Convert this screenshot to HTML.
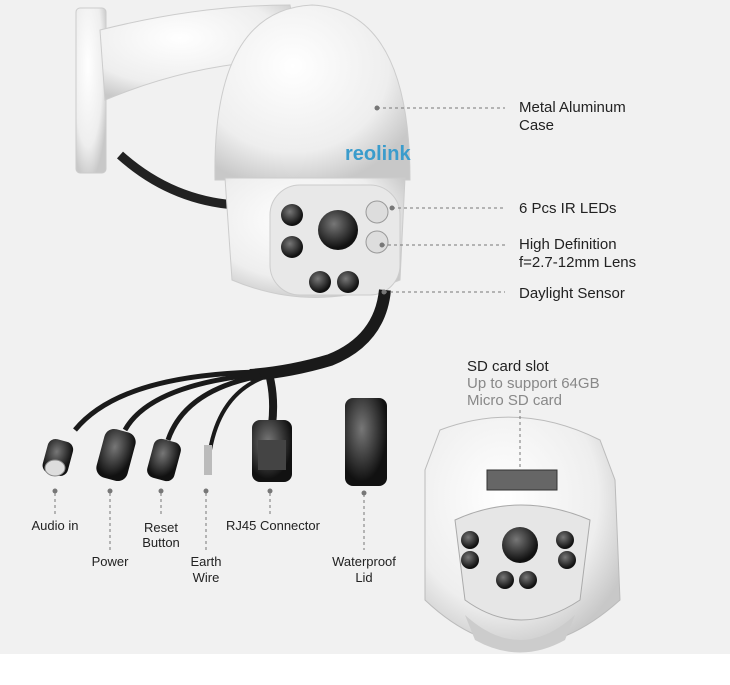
<!DOCTYPE html>
<html><head><style>
body{margin:0;width:730px;height:680px;background:#fff;overflow:hidden}
svg text{font-family:"Liberation Sans",sans-serif;fill:#222}
</style></head><body>
<svg width="730" height="680" viewBox="0 0 730 680">
<defs>
<radialGradient id="w" cx="40%" cy="35%" r="70%"><stop offset="0" stop-color="#fff"/><stop offset="0.7" stop-color="#eee"/><stop offset="1" stop-color="#c8c8c8"/></radialGradient>
<radialGradient id="b" cx="40%" cy="35%" r="60%"><stop offset="0" stop-color="#777"/><stop offset="1" stop-color="#111"/></radialGradient>
</defs>
<rect x="0" y="0" width="730" height="654" fill="#f1f1f1"/>
<!-- bracket -->
<rect x="76" y="8" width="30" height="165" rx="4" fill="url(#w)" stroke="#ccc"/>
<path d="M100 30 Q200 5 290 5 L300 60 Q200 60 105 100Z" fill="url(#w)" stroke="#ccc"/>
<!-- cable from bracket -->
<path d="M120 155 Q170 200 235 205" stroke="#222" stroke-width="9" fill="none"/>
<!-- dome -->
<path d="M215 180 Q212 10 312 5 Q410 10 410 180Z" fill="url(#w)" stroke="#ccc"/>
<text x="345" y="160" font-size="20" fill="#2a8fc0" style="fill:#3a9ccc;font-weight:bold">reolink</text>
<!-- lower housing -->
<path d="M225 178 L405 178 L400 280 Q315 315 232 280Z" fill="url(#w)" stroke="#ccc"/>
<rect x="270" y="185" width="130" height="110" rx="30" fill="#e8e8e8" stroke="#ccc"/>
<circle cx="338" cy="230" r="20" fill="url(#b)"/>
<circle cx="292" cy="215" r="11" fill="url(#b)"/><circle cx="292" cy="247" r="11" fill="url(#b)"/>
<circle cx="377" cy="212" r="11" fill="#ddd" stroke="#999"/><circle cx="377" cy="242" r="11" fill="#ddd" stroke="#999"/>
<circle cx="320" cy="282" r="11" fill="url(#b)"/><circle cx="348" cy="282" r="11" fill="url(#b)"/>
<!-- main cable and branches -->
<path d="M385 290 Q380 340 330 360 Q290 372 250 375" stroke="#1a1a1a" stroke-width="12" fill="none"/>
<path d="M260 372 Q120 375 75 430" stroke="#1a1a1a" stroke-width="5" fill="none"/>
<path d="M260 374 Q150 385 125 430" stroke="#1a1a1a" stroke-width="5" fill="none"/>
<path d="M260 376 Q185 390 168 440" stroke="#1a1a1a" stroke-width="5" fill="none"/>
<path d="M262 378 Q220 395 210 450" stroke="#1a1a1a" stroke-width="4" fill="none"/>
<path d="M270 378 Q275 400 272 425" stroke="#1a1a1a" stroke-width="8" fill="none"/>
<!-- connectors -->
<rect x="45" y="440" width="26" height="35" rx="8" fill="url(#b)" transform="rotate(15 58 457)"/>
<ellipse cx="55" cy="468" rx="10" ry="8" fill="#ddd" stroke="#888"/>
<rect x="100" y="430" width="32" height="50" rx="10" fill="url(#b)" transform="rotate(15 116 455)"/>
<rect x="150" y="440" width="28" height="40" rx="8" fill="url(#b)" transform="rotate(15 164 460)"/>
<rect x="204" y="445" width="8" height="30" fill="#bbb"/>
<rect x="252" y="420" width="40" height="62" rx="8" fill="url(#b)"/>
<rect x="258" y="440" width="28" height="30" fill="#444"/>
<rect x="345" y="398" width="42" height="88" rx="8" fill="url(#b)"/>
<!-- second camera -->
<path d="M440 430 Q520 400 600 440 L615 480 L620 600 Q520 690 425 600 L425 470Z" fill="url(#w)" stroke="#bbb"/>
<rect x="487" y="470" width="70" height="20" fill="#666" stroke="#333"/>
<path d="M455 520 Q520 490 590 520 L580 600 Q520 640 465 600Z" fill="#e6e6e6" stroke="#aaa"/>
<circle cx="520" cy="545" r="18" fill="url(#b)"/>
<circle cx="470" cy="540" r="9" fill="url(#b)"/><circle cx="470" cy="560" r="9" fill="url(#b)"/>
<circle cx="565" cy="540" r="9" fill="url(#b)"/><circle cx="567" cy="560" r="9" fill="url(#b)"/>
<circle cx="505" cy="580" r="9" fill="url(#b)"/><circle cx="528" cy="580" r="9" fill="url(#b)"/>
<path d="M465 615 Q520 665 575 615 L565 640 Q520 665 475 640Z" fill="#ccc"/>
<!-- leaders -->
<g stroke="#777" stroke-width="1" stroke-dasharray="3,3" fill="none">
<line x1="377" y1="108" x2="505" y2="108"/>
<line x1="392" y1="208" x2="505" y2="208"/>
<line x1="382" y1="245" x2="505" y2="245"/>
<line x1="384" y1="292" x2="505" y2="292"/>
<line x1="520" y1="410" x2="520" y2="468"/>
<line x1="55" y1="493" x2="55" y2="515"/>
<line x1="110" y1="493" x2="110" y2="550"/>
<line x1="161" y1="493" x2="161" y2="515"/>
<line x1="206" y1="493" x2="206" y2="550"/>
<line x1="270" y1="493" x2="270" y2="515"/>
<line x1="364" y1="494" x2="364" y2="550"/>
</g>
<g fill="#777">
<circle cx="377" cy="108" r="2.5"/><circle cx="392" cy="208" r="2.5"/><circle cx="382" cy="245" r="2.5"/><circle cx="384" cy="292" r="2.5"/>
<circle cx="55" cy="491" r="2.5"/><circle cx="110" cy="491" r="2.5"/><circle cx="161" cy="491" r="2.5"/><circle cx="206" cy="491" r="2.5"/><circle cx="270" cy="491" r="2.5"/><circle cx="364" cy="493" r="2.5"/>
</g>
<g font-size="15">
<text x="519" y="112">Metal Aluminum</text>
<text x="519" y="130">Case</text>
<text x="519" y="213">6 Pcs IR LEDs</text>
<text x="519" y="249">High Definition</text>
<text x="519" y="267">f=2.7-12mm Lens</text>
<text x="519" y="298">Daylight Sensor</text>
<text x="467" y="371">SD card slot</text>
<text x="467" y="388" style="fill:#888">Up to support 64GB</text>
<text x="467" y="405" style="fill:#888">Micro SD card</text>
</g>
<g font-size="13" text-anchor="middle">
<text x="55" y="530">Audio in</text>
<text x="110" y="566">Power</text>
<text x="161" y="532">Reset</text><text x="161" y="547">Button</text>
<text x="206" y="566">Earth</text><text x="206" y="582">Wire</text>
<text x="273" y="530">RJ45 Connector</text>
<text x="364" y="566">Waterproof</text><text x="364" y="582">Lid</text>
</g>
</svg>
</body></html>
